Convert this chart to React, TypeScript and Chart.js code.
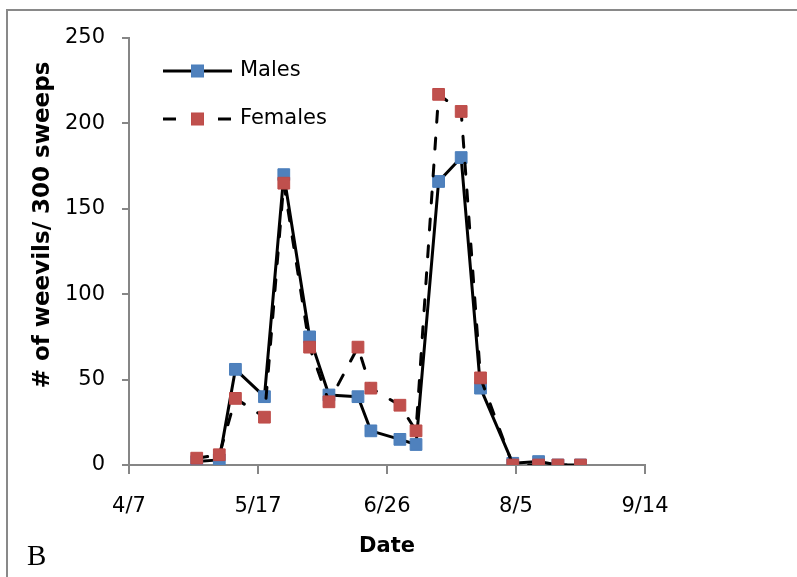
import React, { useEffect, useRef } from "react";
import { Chart, registerables } from "chart.js";

Chart.register(...registerables);

const sampleDates = ["4/28", "5/5", "5/10", "5/19", "5/25", "6/2", "6/8", "6/17", "6/21", "6/30", "7/5", "7/12", "7/19", "7/25", "8/4", "8/12", "8/18", "8/25"];
const males = [2, 3, 56, 40, 170, 75, 41, 40, 20, 15, 12, 166, 180, 45, 1, 2, 0, 0];
const females = [4, 6, 39, 28, 165, 69, 37, 69, 45, 35, 20, 217, 207, 51, 0, 0, 0, 0];
const xTickLabels = ["4/7", "5/17", "6/26", "8/5", "9/14"];
const yTicks = [0, 50, 100, 150, 200, 250];

const ORIGIN = xTickLabels[0];
const toDay = (s: string) => {
  const [m, d] = s.split("/").map(Number);
  const [m0, d0] = ORIGIN.split("/").map(Number);
  return (Date.UTC(2001, m - 1, d) - Date.UTC(2001, m0 - 1, d0)) / 86400000;
};

const BLUE = "#4F81BD";
const BLUE_EDGE = "#4A7EBB";
const RED = "#C0504D";
const RED_EDGE = "#BE4B48";
const AXIS = "#868686";
const FONT = "'DejaVu Sans'";

const decor = {
  id: "decor",
  afterDraw(chart: any) {
    const ctx = chart.ctx;
    const a = chart.chartArea;
    ctx.save();
    // outer frame (left + top visible)
    ctx.strokeStyle = "#898989";
    ctx.lineWidth = 2;
    ctx.setLineDash([]);
    ctx.beginPath();
    ctx.moveTo(7, chart.height);
    ctx.lineTo(7, 10);
    ctx.lineTo(chart.width, 10);
    ctx.stroke();

    // legend
    const items = [
      { label: "Males", y: 71, color: BLUE, edge: BLUE_EDGE, dash: [] as number[] },
      { label: "Females", y: 119, color: RED, edge: RED_EDGE, dash: [13, 42] },
    ];
    const x0 = 163, x1 = 232;
    items.forEach((it) => {
      ctx.strokeStyle = "#000";
      ctx.lineWidth = 3;
      ctx.lineCap = "butt";
      ctx.setLineDash(it.dash);
      ctx.beginPath();
      ctx.moveTo(x0, it.y);
      ctx.lineTo(x1, it.y);
      ctx.stroke();
      ctx.setLineDash([]);
      const cx = (x0 + x1) / 2;
      const s = 6;
      ctx.fillStyle = it.color;
      ctx.strokeStyle = it.edge;
      ctx.lineWidth = 1;
      ctx.fillRect(cx - s, it.y - s, 2 * s, 2 * s);
      ctx.strokeRect(cx - s, it.y - s, 2 * s, 2 * s);
      ctx.fillStyle = "#000";
      ctx.font = `21px ${FONT}`;
      ctx.textAlign = "left";
      ctx.textBaseline = "middle";
      ctx.fillText(it.label, 240, it.y);
    });

    // axis titles
    ctx.fillStyle = "#000";
    ctx.font = `bold 21px ${FONT}`;
    ctx.textAlign = "center";
    ctx.textBaseline = "alphabetic";
    ctx.fillText("Date", (a.left + a.right) / 2, 552);

    ctx.save();
    ctx.translate(43, 225);
    ctx.rotate(-Math.PI / 2);
    ctx.font = `bold 23px ${FONT}`;
    ctx.textBaseline = "middle";
    ctx.fillText("# of weevils/ 300 sweeps", 0, 0);
    ctx.restore();

    // panel letter
    ctx.font = "29px 'Liberation Serif'";
    ctx.textAlign = "left";
    ctx.textBaseline = "alphabetic";
    ctx.fillText("B", 27, 565);
    ctx.restore();
  },
};

export default function App() {
  const ref = useRef<HTMLCanvasElement | null>(null);
  useEffect(() => {
    if (!ref.current) return;
    const xs = sampleDates.map(toDay);
    const xTickDays = xTickLabels.map(toDay);
    const chart = new Chart(ref.current, {
      type: "line",
      data: {
        datasets: [
          {
            label: "Males",
            data: xs.map((x, i) => ({ x, y: males[i] })),
            borderColor: "#000",
            borderWidth: 3,
            borderJoinStyle: "round",
            pointStyle: "rect",
            pointRadius: 8.3,
            pointBackgroundColor: BLUE,
            pointBorderColor: BLUE_EDGE,
            pointBorderWidth: 1,
            tension: 0,
            order: 1,
          },
          {
            label: "Females",
            data: xs.map((x, i) => ({ x, y: females[i] })),
            borderColor: "#000",
            borderWidth: 3,
            borderDash: [11, 16],
            borderCapStyle: "round",
            borderJoinStyle: "round",
            pointStyle: "rect",
            pointRadius: 8.3,
            pointBackgroundColor: RED,
            pointBorderColor: RED_EDGE,
            pointBorderWidth: 1,
            tension: 0,
            order: 0,
          },
        ],
      },
      options: {
        animation: false,
        responsive: false,
        events: [],
        layout: { padding: { left: 0, top: 38, right: 152, bottom: 0 } },
        plugins: { legend: { display: false }, tooltip: { enabled: false } },
        scales: {
          x: {
            type: "linear",
            min: xTickDays[0],
            max: xTickDays[xTickDays.length - 1],
            afterFit: (s: any) => { s.height = 112; },
            afterBuildTicks: (s: any) => { s.ticks = xTickDays.map((v) => ({ value: v })); },
            ticks: {
              callback: (_v: any, i: number) => xTickLabels[i],
              color: "#000",
              font: { family: FONT, size: 21 },
              padding: 20,
              maxRotation: 0,
              autoSkip: false,
            },
            grid: { drawOnChartArea: false, drawTicks: true, tickLength: 9, color: AXIS, lineWidth: 2 },
            border: { display: true, color: AXIS, width: 2 },
          },
          y: {
            type: "linear",
            min: yTicks[0],
            max: yTicks[yTicks.length - 1],
            afterFit: (s: any) => { s.width = 129; },
            afterBuildTicks: (s: any) => { s.ticks = yTicks.map((v) => ({ value: v })); },
            ticks: {
              color: "#000",
              font: { family: FONT, size: 21 },
              padding: 17,
            },
            grid: { drawOnChartArea: false, drawTicks: true, tickLength: 7, color: AXIS, lineWidth: 2 },
            border: { display: true, color: AXIS, width: 2 },
          },
        },
      },
      plugins: [decor],
    });
    return () => chart.destroy();
  }, []);
  return (
    <div style={{ position: "absolute", left: 0, top: 0, width: 797, height: 577, background: "#fff" }}>
      <canvas ref={ref} width={797} height={577} style={{ display: "block" }} />
    </div>
  );
}
